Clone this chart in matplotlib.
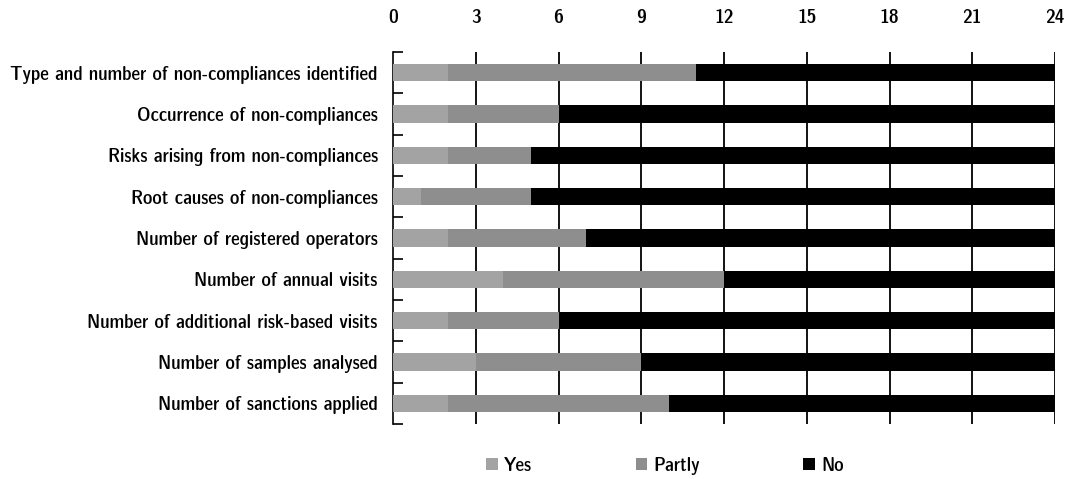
import numpy as np
import matplotlib
matplotlib.use("Agg")
import matplotlib.pyplot as plt
from matplotlib import font_manager
from matplotlib.patches import Patch

categories = [
    "Type and number of non-compliances identified",
    "Occurrence of non-compliances",
    "Risks arising from non-compliances",
    "Root causes of non-compliances",
    "Number of registered operators",
    "Number of annual visits",
    "Number of additional risk-based visits",
    "Number of samples analysed",
    "Number of sanctions applied",
]
yes = [2, 2, 2, 1, 2, 4, 2, 3, 2]
partly = [9, 4, 3, 4, 5, 8, 4, 6, 8]
no = [13, 18, 19, 19, 17, 12, 18, 15, 14]
xticks = [0, 3, 6, 9, 12, 15, 18, 21, 24]

# condensed font, whichever exists
fonts = [(f.name, f.stretch) for f in font_manager.fontManager.ttflist]
narrow = [f for f in fonts if 'Narrow' in f[0] or 'Condensed' in f[0]
          or f[1] in ('condensed', 'semi-condensed', 'extra-condensed')]
font = dict(family='DejaVu Sans', stretch='normal')
for n, s in narrow:
    font = dict(family=n, stretch=s)
    if 'Liberation' in n:
        break
plt.rcParams['font.family'] = [font['family'], 'DejaVu Sans']
plt.rcParams['font.stretch'] = font['stretch']

yes_col = '#a3a3a3'
partly_col = '#8e8e8e'
no_col = 'black'

fig = plt.figure(figsize=(10.71, 4.79), dpi=100)
ax = fig.add_axes([393 / 1071, 1 - 424 / 479, (1055 - 393) / 1071, (424 - 52) / 479])

# size the labels so the longest is ~368 px wide
r = fig.canvas.get_renderer()
t = fig.text(0, 0, categories[0], fontsize=13)
w = t.get_window_extent(r).width
t.remove()
fs = 13 * 370 / w

y = np.arange(len(categories))
h = 0.42
yes_a = np.array(yes)
partly_a = np.array(partly)
ax.barh(y, yes, height=h, color=yes_col, zorder=3)
ax.barh(y, partly, left=yes_a, height=h, color=partly_col, zorder=3)
ax.barh(y, no, left=yes_a + partly_a, height=h, color=no_col, zorder=3)

ax.set_xlim(0, 24)
ax.set_ylim(len(categories) - 0.5, -0.5)
ax.set_xticks(xticks)
ax.xaxis.tick_top()
ax.tick_params(axis='x', length=0, pad=18, labelsize=fs * 1.05)
for x in xticks[1:]:
    ax.axvline(x, color='black', lw=1.3, zorder=1)

ax.set_yticks(y)
ax.set_yticklabels(categories, fontsize=fs)
ax.set_yticks(np.arange(-0.5, len(categories)), minor=True)
ax.tick_params(axis='y', which='major', length=0, pad=11)
ax.tick_params(axis='y', which='minor', direction='in', length=7, width=1.2)

for s in ['top', 'right', 'bottom']:
    ax.spines[s].set_visible(False)
ax.spines['left'].set_linewidth(1.2)

handles = [Patch(facecolor=yes_col, label='Yes'),
           Patch(facecolor=partly_col, label='Partly'),
           Patch(facecolor=no_col, label='No')]
fig.legend(handles=handles, loc='center', bbox_to_anchor=(665 / 1071, 1 - 466 / 479),
           ncol=3, frameon=False, fontsize=fs, handlelength=0.6, handleheight=0.6,
           handletextpad=0.3, columnspacing=5.3)

fig.savefig('out.png', dpi=100)
